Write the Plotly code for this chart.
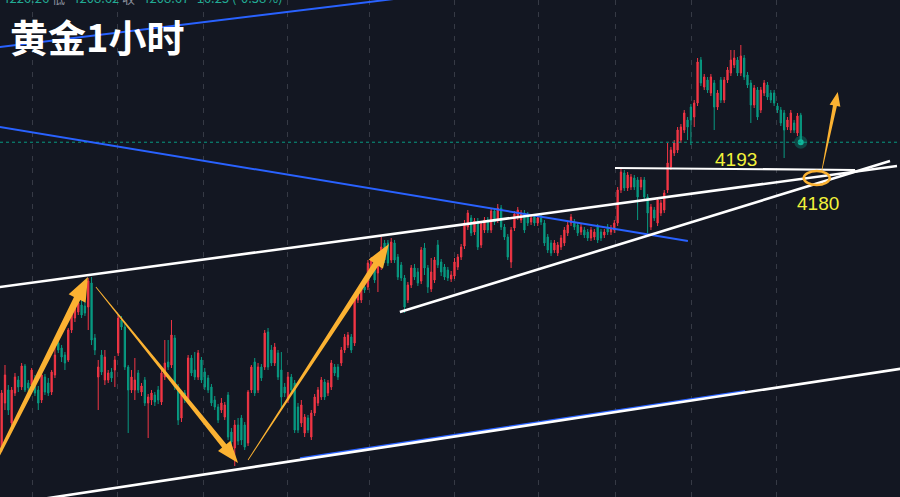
import math
import plotly.graph_objects as go

# gold, 1 hour candles, oldest first (USD/oz)
opens = [
    4024.0, 4052.2, 4060.0, 4040.2, 4058.2, 4066.0, 4061.8, 4074.4, 4064.2, 4063.0,
    4066.0, 4060.0, 4054.0, 4067.8, 4064.2, 4058.8, 4069.0, 4088.2, 4085.2, 4081.0,
    4078.0, 4096.0, 4103.2, 4106.8, 4111.0, 4110.4, 4109.8, 4124.2, 4091.2, 4067.8,
    4081.0, 4066.0, 4066.0, 4070.8, 4072.0, 4082.2, 4102.0, 4097.8, 4073.8, 4060.0,
    4060.0, 4070.2, 4058.8, 4066.0, 4052.2, 4054.0, 4057.0, 4060.0, 4052.8, 4067.8,
    4076.8, 4075.0, 4091.2, 4061.8, 4043.2, 4058.2, 4054.0, 4079.2, 4072.0, 4067.8,
    4078.0, 4070.8, 4067.2, 4061.8, 4054.0, 4049.8, 4048.0, 4043.8, 4057.0, 4034.8,
    4025.2, 4039.0, 4043.2, 4039.0, 4028.2, 4060.0, 4076.8, 4060.0, 4073.8, 4073.8,
    4094.8, 4084.0, 4076.2, 4082.2, 4072.0, 4061.8, 4054.0, 4067.8, 4064.2, 4049.8,
    4040.2, 4034.2, 4043.2, 4031.8, 4046.2, 4052.2, 4055.8, 4064.8, 4058.2, 4061.8,
    4073.8, 4073.8, 4076.2, 4084.0, 4087.0, 4091.8, 4088.2, 4114.0, 4114.0, 4121.8,
    4121.8, 4132.0, 4136.2, 4130.2, 4133.8, 4148.2, 4148.2, 4138.0, 4148.2, 4139.8,
    4135.0, 4127.2, 4114.0, 4123.0, 4133.2, 4130.8, 4125.4, 4145.2, 4133.2, 4120.6,
    4126.0, 4147.0, 4136.8, 4133.8, 4132.0, 4126.6, 4128.4, 4133.8, 4139.8, 4146.4,
    4157.8, 4163.2, 4154.8, 4161.4, 4147.0, 4156.0, 4162.0, 4156.0, 4167.4, 4162.0,
    4169.2, 4157.8, 4151.8, 4136.8, 4157.2, 4163.8, 4162.0, 4166.2, 4165.0, 4160.8,
    4163.8, 4160.2, 4163.2, 4160.2, 4151.8, 4148.2, 4144.0, 4142.2, 4145.8, 4148.2,
    4154.2, 4160.2, 4160.8, 4159.0, 4154.8, 4156.0, 4154.8, 4151.2, 4151.8, 4157.8,
    4154.8, 4153.0, 4157.8, 4154.8, 4156.0, 4160.2, 4180.0, 4190.2, 4181.2, 4181.8,
    4187.2, 4186.0, 4181.8, 4186.0, 4175.8, 4157.8, 4168.0, 4160.2, 4166.2, 4168.0,
    4180.0, 4193.8, 4202.2, 4204.0, 4210.0, 4216.0, 4222.0, 4229.8, 4223.8, 4232.2,
    4258.0, 4241.8, 4246.0, 4238.2, 4244.2, 4229.8, 4246.0, 4234.0, 4246.0, 4250.2,
    4255.0, 4258.0, 4250.2, 4259.2, 4249.0, 4244.2, 4231.0, 4240.0, 4228.0, 4238.2,
    4243.0, 4238.2, 4238.2, 4230.4, 4228.0, 4226.2, 4217.8, 4216.0, 4220.2, 4214.2,
    4224.92,
]
highs = [
    4060.0, 4075.0, 4063.0, 4061.8, 4070.2, 4068.4, 4076.2, 4075.6, 4066.0, 4073.2,
    4069.0, 4062.4, 4070.8, 4069.6, 4067.2, 4072.0, 4087.0, 4090.0, 4087.0, 4082.8,
    4097.2, 4108.0, 4111.0, 4114.0, 4114.0, 4112.8, 4127.2, 4127.8, 4093.6, 4078.0,
    4084.0, 4084.0, 4072.0, 4073.2, 4080.4, 4105.0, 4104.4, 4099.6, 4075.0, 4072.0,
    4079.2, 4072.0, 4064.2, 4067.8, 4057.6, 4060.0, 4058.8, 4062.4, 4072.0, 4090.0,
    4090.0, 4102.0, 4093.0, 4063.6, 4058.8, 4060.0, 4081.0, 4081.0, 4082.8, 4084.0,
    4079.8, 4073.2, 4069.0, 4063.6, 4056.4, 4051.6, 4055.2, 4052.8, 4058.8, 4037.2,
    4042.0, 4043.2, 4045.0, 4040.8, 4060.0, 4075.0, 4079.2, 4076.2, 4075.6, 4096.0,
    4097.2, 4087.0, 4088.2, 4084.0, 4082.8, 4064.2, 4070.8, 4069.6, 4066.0, 4052.2,
    4054.0, 4045.6, 4045.0, 4048.0, 4057.6, 4061.8, 4067.8, 4066.6, 4066.0, 4078.0,
    4075.6, 4075.6, 4085.8, 4093.6, 4094.8, 4093.6, 4115.8, 4120.0, 4123.6, 4124.2,
    4138.0, 4139.8, 4138.0, 4139.8, 4151.8, 4150.0, 4150.0, 4151.2, 4150.0, 4141.6,
    4136.8, 4129.0, 4124.8, 4135.0, 4135.6, 4133.2, 4145.8, 4148.2, 4135.0, 4139.2,
    4139.8, 4150.0, 4138.6, 4135.6, 4133.8, 4131.4, 4139.2, 4141.6, 4147.6, 4162.0,
    4168.0, 4165.0, 4163.2, 4163.2, 4161.4, 4163.8, 4163.8, 4169.2, 4169.2, 4171.6,
    4171.0, 4159.6, 4153.6, 4157.8, 4167.4, 4169.8, 4168.0, 4168.0, 4166.8, 4165.0,
    4165.6, 4165.0, 4165.0, 4162.0, 4153.6, 4150.0, 4150.0, 4148.8, 4153.0, 4157.8,
    4160.8, 4165.6, 4162.6, 4160.8, 4159.6, 4157.8, 4156.6, 4157.8, 4156.6, 4159.6,
    4156.6, 4156.6, 4159.6, 4159.0, 4162.0, 4181.8, 4192.6, 4192.0, 4190.8, 4189.6,
    4189.0, 4187.8, 4187.8, 4187.8, 4177.6, 4171.6, 4169.8, 4175.8, 4174.0, 4180.0,
    4208.2, 4205.8, 4210.0, 4217.8, 4219.6, 4228.0, 4223.8, 4231.6, 4234.0, 4259.2,
    4259.8, 4249.6, 4247.8, 4249.6, 4246.0, 4240.0, 4247.8, 4247.8, 4253.8, 4264.0,
    4264.0, 4259.8, 4267.0, 4261.0, 4250.8, 4246.0, 4243.0, 4241.8, 4241.8, 4246.0,
    4244.8, 4240.0, 4240.0, 4232.2, 4229.8, 4228.0, 4223.8, 4228.0, 4222.0, 4226.2,
    4226.26,
]
lows = [
    4022.8, 4048.0, 4045.0, 4036.0, 4056.4, 4058.8, 4060.0, 4058.8, 4058.8, 4061.2,
    4056.4, 4048.0, 4052.2, 4057.0, 4056.4, 4057.0, 4067.2, 4082.2, 4076.8, 4072.0,
    4076.8, 4094.2, 4100.8, 4105.0, 4103.2, 4104.4, 4096.0, 4087.0, 4081.0, 4048.0,
    4069.0, 4063.0, 4064.2, 4064.8, 4061.8, 4080.4, 4096.0, 4072.0, 4034.2, 4058.2,
    4054.0, 4058.2, 4056.4, 4050.4, 4031.2, 4051.0, 4050.4, 4051.6, 4051.0, 4066.0,
    4072.0, 4073.2, 4060.0, 4039.0, 4040.8, 4052.2, 4052.2, 4068.4, 4066.0, 4066.0,
    4064.2, 4060.0, 4058.2, 4050.4, 4048.0, 4040.2, 4046.2, 4042.0, 4030.0, 4026.4,
    4014.4, 4027.0, 4027.0, 4024.0, 4026.4, 4058.2, 4056.4, 4058.2, 4065.4, 4072.0,
    4072.0, 4074.4, 4074.4, 4066.0, 4048.0, 4055.8, 4052.2, 4057.6, 4034.2, 4034.2,
    4037.8, 4031.8, 4034.2, 4030.0, 4044.4, 4050.4, 4054.0, 4054.0, 4056.4, 4060.0,
    4068.4, 4066.0, 4074.4, 4082.2, 4085.2, 4082.2, 4086.4, 4112.2, 4112.2, 4118.2,
    4120.0, 4130.2, 4124.2, 4118.8, 4132.0, 4136.2, 4134.4, 4136.2, 4136.2, 4126.0,
    4125.4, 4106.2, 4112.2, 4121.2, 4126.0, 4122.4, 4123.6, 4129.0, 4118.2, 4118.8,
    4124.2, 4133.2, 4128.4, 4126.0, 4125.4, 4124.8, 4126.6, 4132.0, 4138.0, 4144.6,
    4156.0, 4152.4, 4153.0, 4144.0, 4145.2, 4154.2, 4154.2, 4154.2, 4159.0, 4160.2,
    4156.0, 4150.0, 4138.0, 4133.2, 4155.4, 4162.0, 4160.2, 4154.2, 4158.4, 4159.0,
    4158.4, 4158.4, 4159.0, 4146.4, 4142.2, 4140.4, 4142.2, 4140.4, 4144.0, 4146.4,
    4152.4, 4158.4, 4156.0, 4152.4, 4153.0, 4151.2, 4149.4, 4149.4, 4150.0, 4148.2,
    4149.4, 4151.2, 4153.0, 4153.0, 4154.2, 4158.4, 4178.2, 4179.4, 4179.4, 4180.0,
    4180.0, 4162.0, 4180.0, 4174.0, 4154.2, 4156.0, 4161.4, 4158.4, 4164.4, 4166.2,
    4178.2, 4192.0, 4200.4, 4202.2, 4208.2, 4214.2, 4210.0, 4207.0, 4217.8, 4230.4,
    4242.4, 4240.0, 4238.2, 4236.4, 4216.0, 4228.0, 4232.2, 4232.2, 4244.2, 4248.4,
    4253.2, 4248.4, 4248.4, 4246.0, 4241.2, 4220.2, 4229.2, 4222.0, 4226.2, 4236.4,
    4234.0, 4232.2, 4230.4, 4226.2, 4218.4, 4199.2, 4216.0, 4214.2, 4214.2, 4212.4,
    4208.62,
]
closes = [
    4058.2, 4069.0, 4048.0, 4060.0, 4067.8, 4061.8, 4074.4, 4060.0, 4061.2, 4072.0,
    4058.2, 4052.2, 4069.0, 4058.8, 4058.2, 4070.8, 4081.0, 4084.0, 4079.8, 4076.2,
    4096.0, 4106.2, 4109.8, 4112.2, 4105.0, 4106.2, 4125.4, 4090.0, 4084.0, 4073.8,
    4070.8, 4079.8, 4070.2, 4067.2, 4078.0, 4103.2, 4097.8, 4073.8, 4060.0, 4067.8,
    4066.0, 4060.0, 4062.4, 4052.2, 4055.8, 4058.2, 4052.8, 4054.0, 4070.2, 4076.2,
    4073.8, 4093.0, 4061.8, 4042.0, 4057.0, 4054.0, 4079.2, 4070.2, 4067.8, 4082.2,
    4066.0, 4061.8, 4060.0, 4052.2, 4049.8, 4042.0, 4052.2, 4051.0, 4031.8, 4028.8,
    4039.0, 4029.4, 4030.0, 4025.8, 4058.8, 4073.8, 4058.2, 4073.8, 4067.2, 4094.2,
    4073.8, 4076.2, 4085.8, 4067.8, 4055.8, 4058.2, 4067.8, 4060.0, 4036.0, 4036.0,
    4051.0, 4043.8, 4036.0, 4046.2, 4055.8, 4060.0, 4066.0, 4055.8, 4064.2, 4076.2,
    4070.2, 4067.8, 4084.0, 4091.8, 4093.0, 4084.0, 4114.0, 4118.2, 4121.8, 4120.0,
    4136.2, 4138.0, 4126.0, 4138.0, 4145.8, 4138.0, 4136.2, 4148.8, 4138.0, 4127.8,
    4127.2, 4109.8, 4123.0, 4133.2, 4127.8, 4124.2, 4144.0, 4133.2, 4121.8, 4130.8,
    4138.0, 4135.0, 4130.8, 4127.8, 4127.2, 4129.0, 4136.8, 4139.8, 4145.8, 4160.2,
    4166.2, 4154.2, 4161.4, 4145.8, 4159.6, 4162.0, 4156.0, 4167.4, 4160.8, 4169.2,
    4157.8, 4151.8, 4139.8, 4156.0, 4165.6, 4168.0, 4166.2, 4156.0, 4160.2, 4163.2,
    4160.2, 4163.2, 4160.8, 4148.2, 4144.0, 4142.2, 4148.2, 4147.0, 4151.2, 4156.0,
    4159.0, 4163.8, 4157.8, 4154.2, 4157.8, 4153.0, 4151.2, 4156.0, 4154.8, 4150.0,
    4151.2, 4154.8, 4154.8, 4157.2, 4160.2, 4180.0, 4190.8, 4181.2, 4189.0, 4187.8,
    4181.8, 4175.8, 4186.0, 4175.8, 4166.2, 4169.8, 4163.2, 4174.0, 4172.2, 4178.2,
    4196.2, 4204.0, 4208.2, 4216.0, 4217.8, 4226.2, 4217.8, 4222.0, 4232.2, 4256.8,
    4244.2, 4247.8, 4240.0, 4247.8, 4229.8, 4238.2, 4234.0, 4246.0, 4252.0, 4258.0,
    4259.2, 4250.2, 4260.4, 4247.8, 4243.0, 4231.0, 4241.2, 4223.8, 4240.0, 4244.2,
    4235.8, 4234.0, 4232.2, 4228.0, 4220.2, 4216.0, 4222.0, 4226.2, 4216.0, 4224.4,
    4208.67,
]
bars = list(range(len(opens)))

# last bar readout
info_high, info_low, info_close = 4226.26, 4208.62, 4208.67
info_change, info_pct = -16.25, -0.38

# drawings: (bar index, price) end points
blue_upper = [(-1, 4265.7), (135, 4298.8)]
blue_mid = [(-1, 4218.0), (206.1, 4149.4)]
blue_low = [(89.6, 4019.0), (223.3, 4059.4)]
channel_top = [(-1, 4121.7), (268.9, 4194.4)]
channel_bottom = [(11.5, 3994.4), (271.3, 4073.1)]
rising_support = [(119.6, 4106.8), (266.8, 4197.4)]
level_4193 = [(184.2, 4193.2), (256.3, 4192.0)]
swing_arrows = [
    [(-1.7, 4018.0), (25.9, 4127.8)],
    [(28.3, 4121.8), (71.0, 4016.2)],
    [(74.0, 4018.0), (116.3, 4147.6)],
    [(246.3, 4191.4), (251.1, 4238.8)],
]
target_zone = [(240.9, 4183.0), (248.7, 4191.4)]
level_texts = ['4193', '4180']
level_text_pos = [(220.5, 4198.6), (245.1, 4172.2)]
day_lines = [9.4, 34.9, 60.5, 85.7, 110.6, 136.1, 161.3, 184.5, 207.3, 232.8]

W, H = 900, 497
X_RANGE = [-0.5, 269.8]
Y_RANGE = [3995.8, 4294.0]

BG = '#131722'
UP = '#f23645'
DOWN = '#089981'
ORANGE = '#fbb232'
YELLOW = '#f2f23a'
BLUE = '#2962ff'


def to_px(x, y):
    px = (x - X_RANGE[0]) / (X_RANGE[1] - X_RANGE[0]) * W
    py = (Y_RANGE[1] - y) / (Y_RANGE[1] - Y_RANGE[0]) * H
    return px, py


def to_data(px, py):
    x = X_RANGE[0] + px / W * (X_RANGE[1] - X_RANGE[0])
    y = Y_RANGE[1] - py / H * (Y_RANGE[1] - Y_RANGE[0])
    return x, y


def arrow_path(tail, tip, w_tail, w_neck, head_w, head_len):
    # tapered arrow like the tradingview arrow tool, built in pixels
    tx, ty = to_px(*tail)
    hx, hy = to_px(*tip)
    d = math.hypot(hx - tx, hy - ty)
    ux, uy = (hx - tx) / d, (hy - ty) / d
    nx, ny = -uy, ux
    bx, by = hx - ux * head_len, hy - uy * head_len
    pts = [
        (tx + nx * w_tail / 2, ty + ny * w_tail / 2),
        (bx + nx * w_neck / 2, by + ny * w_neck / 2),
        (bx + nx * head_w / 2, by + ny * head_w / 2),
        (hx, hy),
        (bx - nx * head_w / 2, by - ny * head_w / 2),
        (bx - nx * w_neck / 2, by - ny * w_neck / 2),
        (tx - nx * w_tail / 2, ty - ny * w_tail / 2),
    ]
    pts = [to_data(px, py) for px, py in pts]
    return 'M ' + ' L '.join('{:.4f},{:.4f}'.format(x, y) for x, y in pts) + ' Z'


def seg(points, color, width):
    (x0, y0), (x1, y1) = points
    return dict(type='line', xref='x', yref='y', x0=x0, y0=y0, x1=x1, y1=y1,
                line=dict(color=color, width=width))


fig = go.Figure()
fig.add_trace(go.Candlestick(
    x=bars, open=opens, high=highs, low=lows, close=closes,
    increasing=dict(line=dict(color=UP, width=1), fillcolor=UP),
    decreasing=dict(line=dict(color=DOWN, width=1), fillcolor=DOWN),
    hoverinfo='skip',
))
# last price glow
fig.add_trace(go.Scatter(x=[bars[-1]], y=[closes[-1]], mode='markers',
                         marker=dict(size=13, color='rgba(8,153,129,0.35)'),
                         hoverinfo='skip'))
fig.add_trace(go.Scatter(x=[bars[-1]], y=[closes[-1]], mode='markers',
                         marker=dict(size=6, color='#0fb59a'),
                         hoverinfo='skip'))

shapes = [
    dict(type='line', xref='paper', yref='y', x0=0, x1=1, y0=closes[-1], y1=closes[-1],
         line=dict(color=DOWN, width=1, dash='dot')),
    seg(blue_upper, BLUE, 2),
    seg(blue_mid, BLUE, 2),
    seg(blue_low, BLUE, 2),
    seg(channel_top, 'white', 2.6),
    seg(channel_bottom, 'white', 2.6),
    seg(rising_support, 'white', 2.6),
    seg(level_4193, 'white', 2.2),
]
arrow_sizes = [(3, 7, 19, 24), (0.8, 5.5, 16, 22), (0.8, 6, 17, 24), (0.6, 4, 11, 14)]
for (tail, tip), (wt, wn, hw, hl) in zip(swing_arrows, arrow_sizes):
    shapes.append(dict(type='path', xref='x', yref='y',
                       path=arrow_path(tail, tip, wt, wn, hw, hl),
                       fillcolor=ORANGE, line=dict(width=0)))
shapes.append(dict(type='circle', xref='x', yref='y',
                   x0=target_zone[0][0], y0=target_zone[0][1],
                   x1=target_zone[1][0], y1=target_zone[1][1],
                   line=dict(color=ORANGE, width=2.5)))

annotations = [
    dict(text='黄金1小时', xref='paper', yref='paper', x=8 / W, y=1 - 35 / H,
         xanchor='left', yanchor='middle', showarrow=False,
         font=dict(family='Noto Sans CJK SC', size=38, color='white', weight='bold')),
    dict(text=('<span style="color:#8a8f9c">高=</span>{:.2f} '
               '<span style="color:#8a8f9c">低=</span>{:.2f} '
               '<span style="color:#8a8f9c">收=</span>{:.2f} {:.2f} ({:.2f}%)')
         .format(info_high, info_low, info_close, info_change, info_pct),
         xref='paper', yref='paper', x=-20 / W, y=1 - 9 / H,
         xanchor='left', yanchor='bottom', showarrow=False,
         font=dict(family='Noto Sans CJK SC', size=13, color='#22ab94')),
]
for txt, (tx, ty) in zip(level_texts, level_text_pos):
    annotations.append(dict(text=txt, x=tx, y=ty, xref='x', yref='y', showarrow=False,
                            font=dict(family='Liberation Sans', size=19, color=YELLOW)))

fig.update_layout(
    width=W, height=H,
    margin=dict(l=0, r=0, t=0, b=0),
    paper_bgcolor=BG, plot_bgcolor=BG,
    showlegend=False,
    boxgap=0.45,
    shapes=shapes,
    annotations=annotations,
)
fig.update_xaxes(range=X_RANGE, rangeslider_visible=False, tickvals=day_lines,
                 showticklabels=False, showgrid=True, griddash='5px,7px',
                 gridcolor='#363a45', gridwidth=1, zeroline=False, showline=False)
fig.update_yaxes(range=Y_RANGE, showticklabels=False, showgrid=False,
                 zeroline=False, showline=False)

fig.write_html("out.html", config=dict(displayModeBar=False),
               post_script="document.body.style.margin='0';document.body.style.background='#131722';")
